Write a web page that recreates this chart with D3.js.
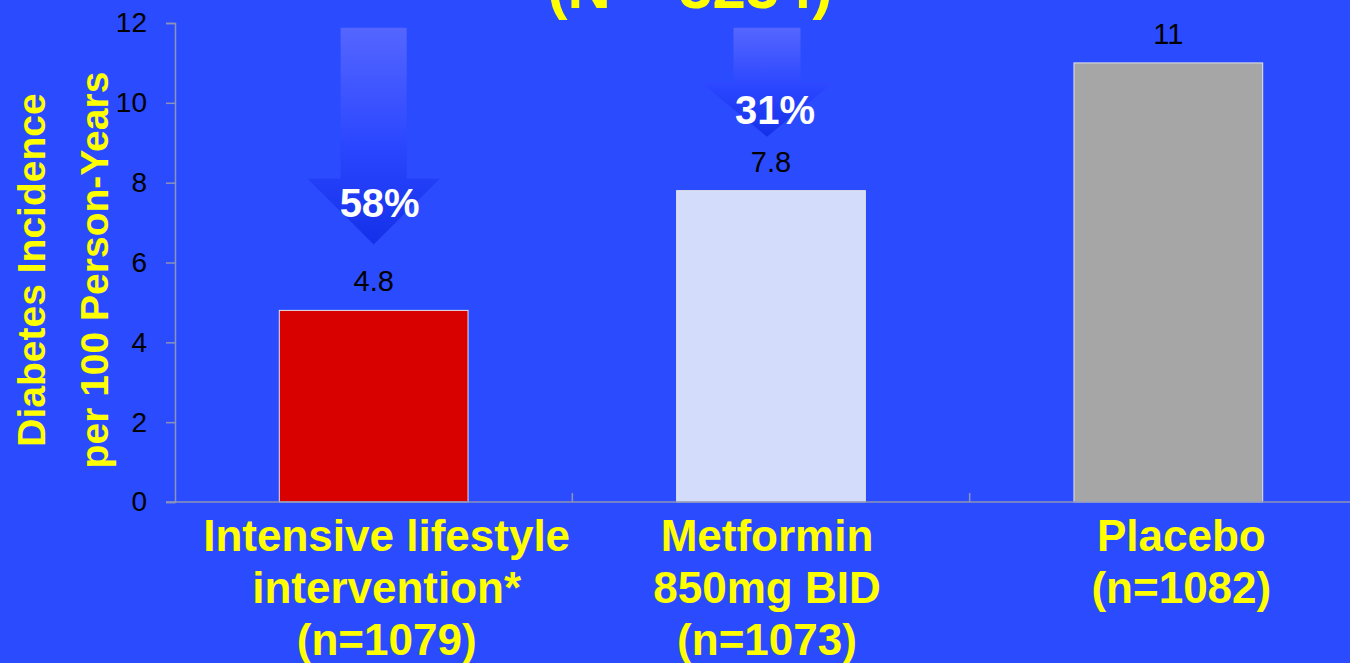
<!DOCTYPE html>
<html>
<head>
<meta charset="utf-8">
<script src="https://cdn.jsdelivr.net/npm/d3@7"></script>
<style>
    html, body { margin: 0; padding: 0; background: #2b4bff; overflow: hidden; }
    svg { display: block; font-family: Arial, "Liberation Sans", sans-serif; }
</style>
</head>
<body>
<div id="chart"></div>
<script>

// Data

const categories = ["Intensive lifestyle", "Metformin", "Placebo"];
const categoryLines = [
    ["Intensive lifestyle", "intervention*", "(n=1079)"],
    ["Metformin", "850mg BID", "(n=1073)"],
    ["Placebo", "(n=1082)"],
];
const incidence = [4.8, 7.8, 11];
const valueLabels = ["4.8", "7.8", "11"];
const yTicks = [0, 2, 4, 6, 8, 10, 12];
const reductions = ["58%", "31%"];
const barColors = ["#d90000", "#d3ddfb", "#a6a6a6"];
const titleText = "(N = 3234)";
const yTitle = ["Diabetes Incidence", "per 100 Person-Years"];

// Configure

const width = 1350;
const height = 663;

const margin = { top: 23, left: 175, bottom: 161, right: -17 };

const svg = d3.select("#chart").append("svg")
    .attr("width", width)
    .attr("height", height);

// Scales

const x = d3.scaleBand()
    .domain(categories)
    .range([margin.left, width - margin.right])
    .paddingInner(0)
    .paddingOuter(0);

const y = d3.scaleLinear()
    .domain([0, 12])
    .range([height - margin.bottom, margin.top]);

const barWidth = x.bandwidth() * 0.475;

// Gradient for arrows

const defs = svg.append("defs");
const grad = defs.append("linearGradient")
    .attr("id", "arrowGrad")
    .attr("x1", 0).attr("y1", 0).attr("x2", 0).attr("y2", 1);
grad.append("stop").attr("offset", "0%").attr("stop-color", "#5566ff");
grad.append("stop").attr("offset", "55%").attr("stop-color", "#2a46ff");
grad.append("stop").attr("offset", "100%").attr("stop-color", "#1430e8");

// Title (cut off at the top)

svg.append("text")
    .attr("x", 690)
    .attr("y", 8)
    .attr("text-anchor", "middle")
    .attr("fill", "#ffff00")
    .attr("font-weight", "bold")
    .attr("font-size", 60)
    .text(titleText);

// Bars

svg.selectAll("rect.bar")
    .data(incidence)
    .enter()
    .append("rect")
    .attr("class", "bar")
    .attr("x", (d, i) => x(categories[i]) + (x.bandwidth() - barWidth) / 2)
    .attr("y", d => y(d))
    .attr("width", barWidth)
    .attr("height", d => y(0) - y(d))
    .attr("fill", (d, i) => barColors[i])
    .attr("stroke", "#e4e4e4")
    .attr("stroke-width", 1);

// Value labels

svg.selectAll("text.value")
    .data(incidence)
    .enter()
    .append("text")
    .attr("class", "value")
    .attr("x", (d, i) => x(categories[i]) + x.bandwidth() / 2)
    .attr("y", d => y(d) - 19)
    .attr("text-anchor", "middle")
    .attr("font-size", 29)
    .attr("fill", "#000")
    .text((d, i) => valueLabels[i]);

// Arrows (reduction vs placebo)

const arrows = [
    { cat: 0, dx: 0, top: 11.88, neck: 8.1, tip: 6.45, shaft: 66, head: 132, textDx: 6, textUp: 28 },
    { cat: 1, dx: -4, top: 11.88, neck: 10.5, tip: 9.15, shaft: 67, head: 131, textDx: 8, textUp: 13 },
];

arrows.forEach((a, i) => {
    const cx = x(categories[a.cat]) + x.bandwidth() / 2 + a.dx;
    const pts = [
        [cx - a.shaft / 2, y(a.top)],
        [cx + a.shaft / 2, y(a.top)],
        [cx + a.shaft / 2, y(a.neck)],
        [cx + a.head / 2, y(a.neck)],
        [cx, y(a.tip)],
        [cx - a.head / 2, y(a.neck)],
        [cx - a.shaft / 2, y(a.neck)],
    ];
    svg.append("path")
        .attr("d", d3.line()(pts) + "Z")
        .attr("fill", "url(#arrowGrad)");

    svg.append("text")
        .attr("x", cx + a.textDx)
        .attr("y", y(a.tip) - a.textUp)
        .attr("text-anchor", "middle")
        .attr("font-weight", "bold")
        .attr("font-size", 40)
        .attr("fill", "#fff")
        .text(reductions[i]);
});

// Y axis

const yAxis = d3.axisLeft(y)
    .tickValues(yTicks)
    .tickSize(9)
    .tickPadding(19)
    .tickFormat(d3.format("d"));

const yg = svg.append("g")
    .attr("transform", "translate(" + margin.left + ",0)")
    .call(yAxis);

yg.select(".domain").attr("stroke", "#8c93b8").attr("stroke-width", 1.5);
yg.selectAll(".tick line").attr("stroke", "#8c93b8").attr("stroke-width", 1.5);
yg.selectAll(".tick text")
    .attr("font-size", 28)
    .attr("font-family", "Arial, 'Liberation Sans', sans-serif")
    .attr("fill", "#000");

// X axis

svg.append("line")
    .attr("x1", margin.left - 9)
    .attr("x2", width)
    .attr("y1", y(0))
    .attr("y2", y(0))
    .attr("stroke", "#8c93b8")
    .attr("stroke-width", 1.5);

svg.selectAll("line.xtick")
    .data(categories.slice(1))
    .enter()
    .append("line")
    .attr("class", "xtick")
    .attr("x1", d => x(d))
    .attr("x2", d => x(d))
    .attr("y1", y(0))
    .attr("y2", y(0) - 9)
    .attr("stroke", "#8c93b8")
    .attr("stroke-width", 1.5);

// Category labels

const labelShift = [13, -4, 13];

categoryLines.forEach((lines, i) => {
    const t = svg.append("text")
        .attr("x", x(categories[i]) + x.bandwidth() / 2 + labelShift[i])
        .attr("y", 551)
        .attr("text-anchor", "middle")
        .attr("font-weight", "bold")
        .attr("font-size", 44)
        .attr("fill", "#ffff00");
    lines.forEach((line, j) => {
        t.append("tspan")
            .attr("x", x(categories[i]) + x.bandwidth() / 2 + labelShift[i])
            .attr("dy", j === 0 ? 0 : 52)
            .text(line);
    });
});

// Y title

const yt = svg.append("text")
    .attr("transform", "translate(45, 270) rotate(-90)")
    .attr("text-anchor", "middle")
    .attr("font-weight", "bold")
    .attr("font-size", 39)
    .attr("fill", "#ffff00");

yTitle.forEach((line, j) => {
    yt.append("tspan")
        .attr("x", 0)
        .attr("dy", j === 0 ? 0 : 63)
        .text(line);
});

</script>
</body>
</html>
